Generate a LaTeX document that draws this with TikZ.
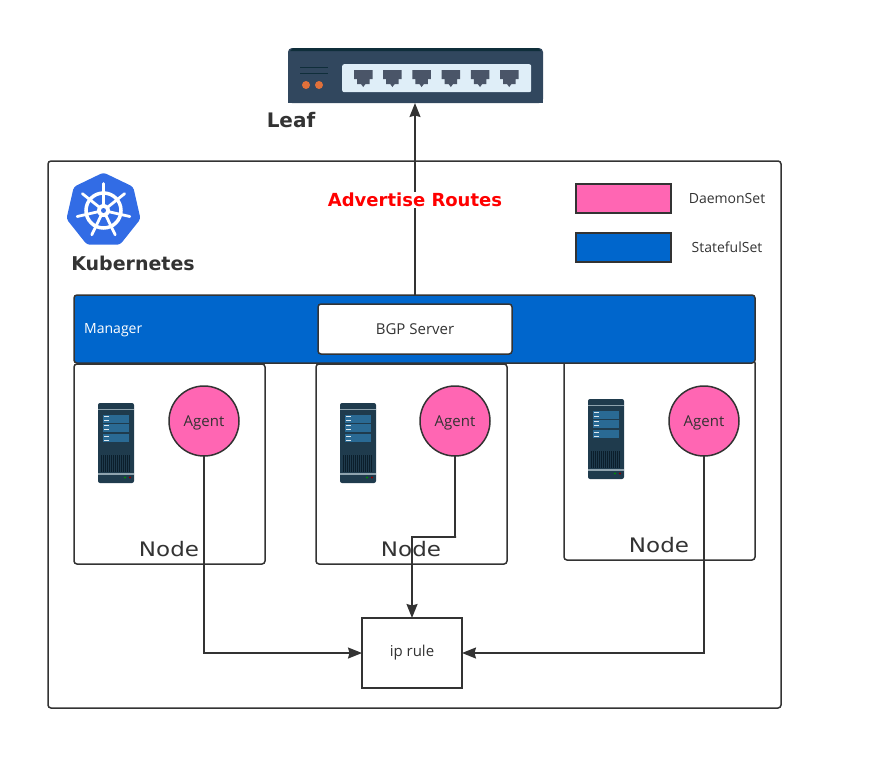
\documentclass[tikz,border=0pt]{standalone}
\usepackage{fontspec}
\setmainfont{DejaVu Sans}
\newfontfamily\thinfont{Open Sans}
\newfontfamily\widefont[FakeStretch=1.15]{DejaVu Sans}
\usetikzlibrary{arrows.meta,shapes.geometric}

\definecolor{inkgray}{HTML}{333333}
\definecolor{hotpk}{HTML}{FF66B3}
\definecolor{statblue}{HTML}{0066CC}
\definecolor{kubeblue}{HTML}{326CE5}
\definecolor{leafbody}{HTML}{31475E}
\definecolor{leaftop}{HTML}{0F2E3A}
\definecolor{leafpanel}{HTML}{DFEEF8}
\definecolor{leafport}{HTML}{4A5568}
\definecolor{leafled}{HTML}{E0703A}
\definecolor{srvbody}{HTML}{1F3B4D}
\definecolor{srvrow}{HTML}{2A6A94}
\definecolor{srvband}{HTML}{8FA3AE}
\definecolor{srvdark}{HTML}{0B1E2B}

\tikzset{
  boxline/.style={draw=inkgray,line width=1.5pt,outer sep=0pt},
  nodebox/.style={boxline,rounded corners=3pt,minimum width=191pt,minimum height=200pt,anchor=north west,inner sep=0pt},
  agent/.style={boxline,circle,fill=hotpk,minimum size=70pt,inner sep=0pt,font=\thinfont\fontsize{15}{17}\selectfont,text=inkgray,text height=13pt,text depth=3pt},
  legendbox/.style={boxline,minimum width=95pt,minimum height=29pt,inner sep=0pt},
  smalltext/.style={font=\thinfont\fontsize{14}{16}\selectfont,text=inkgray,inner sep=0pt},
  boxtext/.style={font=\thinfont\fontsize{15}{17}\selectfont,text=inkgray,inner sep=0pt},
  nodetext/.style={font=\widefont\fontsize{20}{24}\selectfont,text=inkgray},
  headtext/.style={font=\bfseries\fontsize{20}{24}\selectfont,text=inkgray},
  link/.style={line width=1.5pt,draw=inkgray,-{Stealth[length=14pt,width=11pt,inset=1.5pt]}}
}

\newcommand{\servericon}[1]{
  \begin{scope}[shift={#1}]
    \fill[srvbody,rounded corners=2pt] (0,0) rectangle (36,80);
    \fill[srvband] (0,5.5) rectangle (36,7);
    \foreach \rowtop in {11.5,20.5,31}
      \fill[srvrow] (5,\rowtop) rectangle (31,\rowtop+8);
    \foreach \rowtop in {13,17,22,26,32.5,36.5}
      \fill[white!85!srvrow] (6,\rowtop) rectangle (11,\rowtop+1);
    \fill[srvdark] (3,52) rectangle (33,69);
    \foreach \barx in {4,6,...,32}
      \fill[srvbody] (\barx,52) rectangle (\barx+0.8,69);
    \fill[srvband] (0,69.5) rectangle (36,71.5);
    \fill[green!55!black] (27,74.5) circle (1.2);
    \fill[red!55!black] (32,74.5) circle (1.2);
  \end{scope}
}

\begin{document}
\begin{tikzpicture}[x=1pt,y=-1pt]
  \useasboundingbox (0,0) rectangle (870,769);

  \node[boxline,rounded corners=3pt,minimum width=733pt,minimum height=547pt,anchor=north west,inner sep=0pt] (cluster) at (48,161) {};

  \fill[leafbody,rounded corners=4pt] (288,103) -- (288,48) -- (543,48) -- (543,103) -- cycle;
  \fill[leafbody] (288,90) rectangle (543,103);
  \fill[leaftop] (293,48) -- (538,48) -- (541,51) -- (290,51) -- cycle;
  \draw[leaftop,line width=0.7pt] (300,67.5) -- (328,67.5) (300,73.5) -- (328,73.5);
  \fill[leafled] (306,85) circle (4) (319,85) circle (4);
  \node[fill=leafpanel,rounded corners=2pt,minimum width=189pt,minimum height=28pt,inner sep=0pt,anchor=north west] (panel) at (342,64) {};
  \foreach \portx in {354,383.2,412.4,441.6,470.8,500}
    \fill[leafport] (\portx,70) -- (\portx+18.5,70) -- (\portx+18.5,79) -- (\portx+15.5,79) -- (\portx+15.5,84) -- (\portx+11.5,84) -- (\portx+9.2,87) -- (\portx+7,84) -- (\portx+3,84) -- (\portx+3,79) -- (\portx,79) -- cycle;
  \coordinate (leafport) at (415,103);
  \node[headtext] (leaflabel) at (291,120) {Leaf};

  \node[regular polygon,regular polygon sides=7,fill=kubeblue,minimum size=76pt,inner sep=0pt,rounded corners=3pt] (logo) at (103.5,210.5) {};
  \draw[white,line width=3.5pt] (logo.center) circle (17.5);
  \fill[white] (logo.center) circle (6.5);
  \fill[kubeblue] (logo.center) circle (2.5);
  \foreach \spoke in {0,...,6}
    \draw[white,line width=2.8pt,line cap=round] (logo.center) ++(-90+\spoke*360/7:5) -- ++(-90+\spoke*360/7:22);
  \node[font=\bfseries\fontsize{19}{23}\selectfont,text=inkgray] (kubelabel) at (133,263) {Kubernetes};

  \node[legendbox,fill=hotpk] (legenddaemon) at (623.5,198.5) {};
  \node[legendbox,fill=statblue] (legendstateful) at (623.5,247.5) {};
  \node[smalltext] (daemonlabel) at (727,198.5) {DaemonSet};
  \node[smalltext] (statefullabel) at (727,247.5) {StatefulSet};

  \node[nodebox] (node1) at (74,364) {};
  \node[nodebox] (node2) at (316,364) {};
  \node[nodebox] (node3) at (564,360) {};
  \node[nodetext] (nodelabel1) at (169,549) {Node};
  \node[nodetext] (nodelabel2) at (411,549) {Node};
  \node[nodetext] (nodelabel3) at (659,545) {Node};

  \servericon{(98,403)}
  \servericon{(340,403)}
  \servericon{(588,399)}

  \node[agent] (agent1) at (204,421) {Agent};
  \node[agent] (agent2) at (455,421) {Agent};
  \node[agent] (agent3) at (704,421) {Agent};

  \node[boxline,fill=statblue,rounded corners=3pt,minimum width=681pt,minimum height=68pt,anchor=north west,inner sep=0pt] (manager) at (74,295) {};
  \node[smalltext,text=white,anchor=west] (managerlabel) at (84,330) {Manager};
  \node[boxline,fill=white,rounded corners=3pt,minimum width=194pt,minimum height=50pt,boxtext] (bgp) at (415,329) {BGP Server};

  \node[boxline,minimum width=100pt,minimum height=70pt,boxtext] (iprule) at (412,653) {ip rule};

  \coordinate (bgptop) at (415,295);
  \coordinate (agentbend) at (456,537);
  \draw[link] (bgptop) -- (leafport);
  \node[fill=white,inner sep=1pt,text=red,font=\bfseries\fontsize{18}{22}\selectfont] (routes) at (415,200) {Advertise Routes};
  \draw[link] (agent1) |- (iprule);
  \draw[link] (agent2) |- (agentbend) -| (iprule);
  \draw[link] (agent3) |- (iprule);
\end{tikzpicture}
\end{document}
